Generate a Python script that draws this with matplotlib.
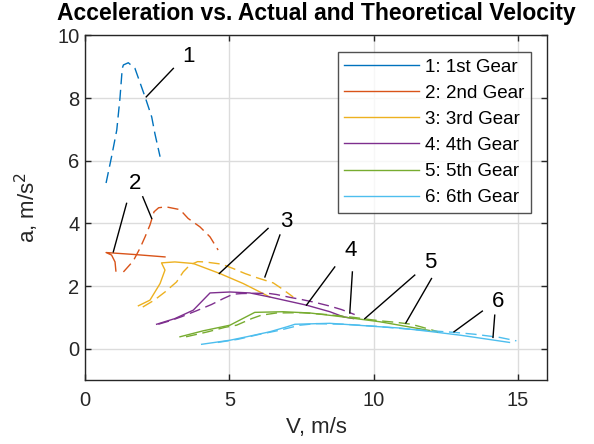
import matplotlib
matplotlib.use("Agg")
import matplotlib.pyplot as plt

plt.rcParams['font.family'] = ['Liberation Sans', 'DejaVu Sans']

colors = ['#0072BD', '#D95319', '#EDB120', '#7E2F8E', '#77AC30', '#4DBEEE']
labels = ['1: 1st Gear', '2: 2nd Gear', '3: 3rd Gear', '4: 4th Gear', '5: 5th Gear', '6: 6th Gear']

# Actual (solid) curves
g1_x = [-0.3, 0.01]
g1_y = [3.30, 3.27]
g2_x = [1.07, 1.04, 0.92, 0.73, 1.67, 2.77]
g2_y = [2.48, 2.77, 2.99, 3.07, 3.01, 2.93]
g3_x = [1.85, 2.25, 2.60, 2.77, 2.65, 3.11, 3.75, 4.67, 5.48, 6.06, 6.40]
g3_y = [1.37, 1.55, 2.08, 2.51, 2.74, 2.77, 2.72, 2.40, 2.08, 1.81, 1.65]
g4_x = [2.48, 3.11, 3.75, 4.33, 5.02, 5.71, 6.40, 7.67, 8.48, 8.94, 9.30]
g4_y = [0.78, 0.96, 1.23, 1.78, 1.81, 1.78, 1.65, 1.39, 1.18, 1.02, 0.96]
g5_x = [3.29, 4.09, 5.02, 5.88, 6.86, 7.79, 8.71, 10.21, 11.94]
g5_y = [0.38, 0.57, 0.75, 1.16, 1.18, 1.14, 1.04, 0.86, 0.58]
g6_x = [4.04, 5.02, 5.60, 6.40, 7.00, 7.27, 8.48, 10.21, 10.90, 11.94, 13.00, 14.70]
g6_y = [0.14, 0.27, 0.38, 0.54, 0.70, 0.78, 0.81, 0.70, 0.66, 0.55, 0.43, 0.20]

# Theoretical (dashed) curves
t1_x = [0.73, 0.92, 1.10, 1.21, 1.29, 1.33, 1.50, 1.73, 2.08, 2.31, 2.42, 2.60]
t1_y = [5.29, 6.13, 6.98, 7.99, 8.95, 9.06, 9.13, 8.95, 8.04, 7.40, 6.87, 6.13]
t2_x = [1.33, 1.67, 1.90, 2.08, 2.25, 2.39, 2.55, 2.80, 3.29, 3.57, 3.98, 4.33, 4.61]
t2_y = [2.45, 2.80, 3.20, 3.57, 3.95, 4.37, 4.50, 4.53, 4.44, 4.16, 3.89, 3.57, 3.15]
t3_x = [2.00, 2.40, 2.77, 3.17, 3.40, 3.63, 3.90, 4.15, 4.73, 5.13, 5.54, 5.94, 6.52, 6.81, 7.21]
t3_y = [1.33, 1.55, 1.81, 2.13, 2.45, 2.67, 2.78, 2.77, 2.70, 2.56, 2.40, 2.27, 2.10, 1.92, 1.65]
t4_x = [2.54, 2.94, 3.34, 3.86, 4.38, 4.79, 5.13, 5.42, 5.90, 6.40, 6.63, 7.09, 7.50, 7.96, 8.48, 8.88, 9.34]
t4_y = [0.78, 0.89, 1.02, 1.21, 1.41, 1.60, 1.74, 1.76, 1.77, 1.76, 1.73, 1.64, 1.57, 1.48, 1.36, 1.25, 1.09]
t5_x = [3.50, 4.26, 4.84, 5.25, 5.77, 6.11, 6.63, 7.50, 8.50, 9.30, 9.86, 10.32, 10.79, 11.30, 11.70, 12.23]
t5_y = [0.38, 0.54, 0.68, 0.75, 0.96, 1.07, 1.14, 1.15, 1.08, 1.00, 0.93, 0.88, 0.84, 0.78, 0.68, 0.54]
t6_x = [4.60, 5.30, 6.00, 6.75, 7.44, 8.00, 9.00, 10.00, 11.00, 12.00, 12.80, 13.50, 14.36, 14.94]
t6_y = [0.20, 0.30, 0.45, 0.59, 0.75, 0.80, 0.78, 0.72, 0.64, 0.57, 0.52, 0.46, 0.36, 0.25]

actual = [(g1_x, g1_y), (g2_x, g2_y), (g3_x, g3_y), (g4_x, g4_y), (g5_x, g5_y), (g6_x, g6_y)]
theory = [(t1_x, t1_y), (t2_x, t2_y), (t3_x, t3_y), (t4_x, t4_y), (t5_x, t5_y), (t6_x, t6_y)]

# Annotations: label text, text position, list of line segments (start, end)
ann_text = ['1', '2', '3', '4', '5', '6']
ann_pos = [(3.57, 9.32), (1.73, 5.28), (6.98, 4.05), (9.20, 3.14), (11.94, 2.74), (14.30, 1.50)]
ann_lines = [
    [((3.06, 8.95), (2.12, 8.04))],
    [((1.44, 4.64), (0.98, 3.09)), ((2.00, 4.85), (2.31, 4.16))],
    [((6.34, 3.84), (4.65, 2.40)), ((6.75, 3.63), (6.23, 2.29))],
    [((8.65, 2.61), (7.67, 1.39)), ((9.26, 2.45), (9.17, 1.14))],
    [((11.42, 2.35), (9.69, 0.96)), ((12.00, 2.24), (11.11, 0.82))],
    [((13.76, 1.20), (12.78, 0.54)), ((14.19, 1.07), (14.13, 0.36))],
]

fig = plt.figure(figsize=(5.94, 4.44), dpi=100)
ax = fig.add_axes([85/594, 1 - 380/444, 462/594, 344.5/444])

for (x, y), c, lab in zip(actual, colors, labels):
    ax.plot(x, y, color=c, lw=1.0, label=lab)
for (x, y), c in zip(theory, colors):
    ax.plot(x, y, color=c, lw=1.0, ls=(0, (8, 4)))

for t, p, segs in zip(ann_text, ann_pos, ann_lines):
    ax.text(p[0], p[1], t, fontsize=16, ha='center', va='center', color='black')
    for (a, b) in segs:
        ax.plot([a[0], b[0]], [a[1], b[1]], color='black', lw=1.0)

ax.set_xlim(0, 16)
ax.set_ylim(-1, 10)
ax.set_xticks([0, 5, 10, 15])
ax.set_yticks([0, 2, 4, 6, 8, 10])
ax.grid(True, color='#dcdcdc', lw=1.0)
ax.set_axisbelow(True)
ax.tick_params(direction='in', length=4, width=1.0, top=True, right=True,
               labelsize=14.5, colors='#262626', labelcolor='#262626', pad=4)
ax.tick_params(axis='x', pad=8)
for s in ax.spines.values():
    s.set_color('#262626')
    s.set_linewidth(1.0)

ax.set_xlabel('V, m/s', fontsize=16, color='#262626', labelpad=5)
ax.set_ylabel('a, m/s$^2$', fontsize=16, color='#262626', labelpad=12)
ax.set_title('Acceleration vs. Actual and Theoretical Velocity', fontsize=16.5,
             fontweight='bold', pad=11)

leg = ax.legend(loc='upper right', bbox_to_anchor=(531/594, 1 - 52/444),
                bbox_transform=fig.transFigure, fontsize=13.5, frameon=True,
                fancybox=False, edgecolor='#262626', handlelength=4.0,
                borderpad=0.35, labelspacing=0.48, handletextpad=0.3, borderaxespad=0)
leg.get_frame().set_linewidth(1.0)

fig.savefig('out.png', dpi=100)
